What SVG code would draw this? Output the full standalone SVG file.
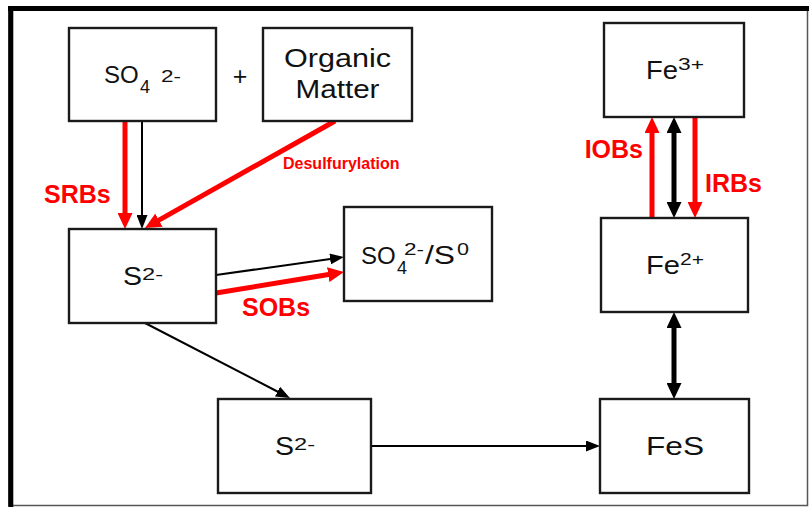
<svg xmlns="http://www.w3.org/2000/svg" width="809" height="508" viewBox="0 0 809 508">
<defs>
<style>
.box{fill:#fff;stroke:#1a1a1a;stroke-width:2.4}
.t{font-family:"Liberation Sans",Arial,sans-serif;fill:#111;font-size:25px}
.s{font-size:16px}
.m{font-size:24px}
.lbl{font-family:"Liberation Sans",Arial,sans-serif;font-weight:bold;fill:#f00;font-size:25px}
.thin{stroke:#000;stroke-width:2;fill:none}
.red{stroke:#f00;stroke-width:5;fill:none}
.thick{stroke:#000;stroke-width:5;fill:none}
</style>
<marker id="ab" markerUnits="userSpaceOnUse" markerWidth="14" markerHeight="11" refX="2" refY="5.5" orient="auto"><path d="M0,0L14,5.5L0,11z" fill="#000"/></marker>
<marker id="ar" markerUnits="userSpaceOnUse" markerWidth="16" markerHeight="15" refX="2" refY="7.5" orient="auto"><path d="M0,0L16,7.5L0,15z" fill="#f00"/></marker>
<marker id="ak" markerUnits="userSpaceOnUse" markerWidth="16" markerHeight="15" refX="2" refY="7.5" orient="auto-start-reverse"><path d="M0,0L16,7.5L0,15z" fill="#000"/></marker>
</defs>
<rect width="809" height="508" fill="#fff"/>
<g id="frame">
<rect x="9" y="7" width="798.5" height="498.5" fill="none" stroke="#555" stroke-width="1.5"/>
<line x1="8" y1="8.5" x2="809" y2="8.5" stroke="#000" stroke-width="5"/>
<line x1="10.8" y1="6" x2="10.8" y2="507" stroke="#000" stroke-width="5"/>
</g>
<g id="connectors">
<line class="red" x1="125" y1="121" x2="125" y2="215" marker-end="url(#ar)"/>
<line class="thin" x1="142" y1="121" x2="142" y2="217" marker-end="url(#ab)"/>
<line class="red" x1="335" y1="121" x2="157.2" y2="221.1" marker-end="url(#ar)"/>
<line class="thin" x1="216" y1="275" x2="332.1" y2="258.7" marker-end="url(#ab)"/>
<line class="red" x1="216" y1="293" x2="330.2" y2="274.3" marker-end="url(#ar)"/>
<line class="thin" x1="145" y1="323" x2="279.3" y2="392.5" marker-end="url(#ab)"/>
<line class="thin" x1="371" y1="446" x2="588" y2="446" marker-end="url(#ab)"/>
<line class="red" x1="652" y1="218" x2="652" y2="131" marker-end="url(#ar)"/>
<line class="thick" x1="674" y1="131" x2="674" y2="204" marker-start="url(#ak)" marker-end="url(#ak)"/>
<line class="red" x1="695" y1="117" x2="695" y2="204" marker-end="url(#ar)"/>
<line class="thick" x1="674" y1="326" x2="674" y2="385" marker-start="url(#ak)" marker-end="url(#ak)"/>
</g>
<g id="labels">
<text class="lbl" x="283" y="169" style="font-size:16px">Desulfurylation</text>
<text class="lbl" x="44" y="203">SRBs</text>
<text class="lbl" x="242" y="316">SOBs</text>
<text class="lbl" x="643" y="158" text-anchor="end">IOBs</text>
<text class="lbl" x="705" y="192">IRBs</text>
<text class="t" x="240" y="85" text-anchor="middle">+</text>
</g>
<g id="so4">
<rect class="box" x="69" y="28" width="147" height="93"/>
<text class="t"><tspan class="m" x="104" y="83">SO</tspan><tspan style="font-size:18px" x="140" y="93">4</tspan><tspan class="s" x="161" y="82" textLength="20" lengthAdjust="spacingAndGlyphs">2-</tspan></text>
</g>
<g id="organic">
<rect class="box" x="263" y="28" width="149" height="93"/>
<text class="t" text-anchor="middle"><tspan x="337.5" y="67" textLength="107" lengthAdjust="spacingAndGlyphs">Organic</tspan><tspan x="337.5" y="98" textLength="84" lengthAdjust="spacingAndGlyphs">Matter</tspan></text>
</g>
<g id="s2a">
<rect class="box" x="69" y="229" width="147" height="94"/>
<text class="t"><tspan x="123" y="285" textLength="19" lengthAdjust="spacingAndGlyphs">S</tspan><tspan class="s" x="142" y="280" textLength="21" lengthAdjust="spacingAndGlyphs">2-</tspan></text>
</g>
<g id="so4s0">
<rect class="box" x="344" y="207" width="148" height="94"/>
<text class="t"><tspan class="m" x="361" y="264">SO</tspan><tspan style="font-size:18px" x="397" y="274">4</tspan><tspan class="s" x="404" y="255" textLength="20" lengthAdjust="spacingAndGlyphs">2-</tspan><tspan x="425" y="264" textLength="30" lengthAdjust="spacingAndGlyphs">/S</tspan><tspan class="s" x="457" y="255" textLength="12" lengthAdjust="spacingAndGlyphs">0</tspan></text>
</g>
<g id="s2b">
<rect class="box" x="218" y="399" width="153" height="94"/>
<text class="t"><tspan x="275" y="455" textLength="19" lengthAdjust="spacingAndGlyphs">S</tspan><tspan class="s" x="294" y="450" textLength="21" lengthAdjust="spacingAndGlyphs">2-</tspan></text>
</g>
<g id="fe3">
<rect class="box" x="604" y="23" width="140" height="94"/>
<text class="t"><tspan x="646" y="79" textLength="32" lengthAdjust="spacingAndGlyphs">Fe</tspan><tspan class="s" x="678" y="70" textLength="26" lengthAdjust="spacingAndGlyphs">3+</tspan></text>
</g>
<g id="fe2">
<rect class="box" x="601" y="218" width="147" height="94"/>
<text class="t"><tspan x="646" y="274" textLength="34" lengthAdjust="spacingAndGlyphs">Fe</tspan><tspan class="s" x="680" y="265" textLength="24" lengthAdjust="spacingAndGlyphs">2+</tspan></text>
</g>
<g id="fes">
<rect class="box" x="600" y="399" width="149" height="94"/>
<text class="t" x="646" y="455" textLength="58" lengthAdjust="spacingAndGlyphs">FeS</text>
</g>
</svg>
